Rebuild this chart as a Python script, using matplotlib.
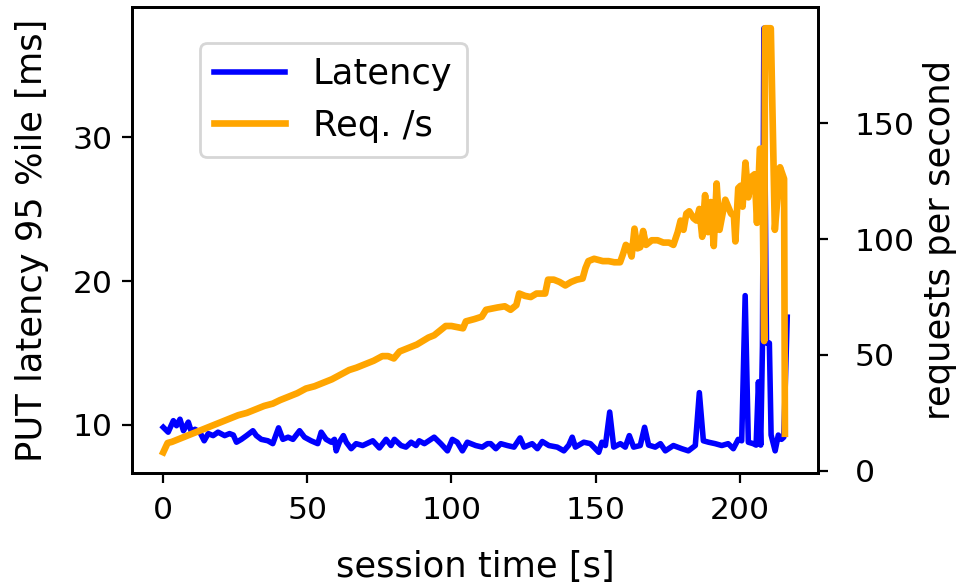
import matplotlib
matplotlib.use("Agg")
import matplotlib.pyplot as plt

# latency (95th percentile of PUT) over session time
lat_t = [0, 1.7, 3.5, 4.6, 5.8, 7, 8.7, 9.8, 11, 12.7,
         14.2, 15.6, 17.3, 19, 21.3, 23, 24.3, 25.4, 27.1, 28.9,
         31.1, 32.3, 34, 36.3, 38, 40, 41.5, 43.3, 45, 47.3,
         49, 51.3, 53.6, 54.8, 56.5, 58.3, 59.4, 60, 61.1, 62.5,
         63.5, 65.2, 66.9, 69.2, 72.7, 75, 77.3, 79, 80.2, 82.5,
         84.2, 86, 87.7, 88.8, 90.6, 94, 96.3, 98.6, 100.3, 102,
         103.8, 105.5, 108.4, 110.7, 112.5, 113.6, 115.4, 117.1, 119.4, 121.7,
         123.8, 125.2, 128, 129.8, 131.5, 133.8, 136.7, 139, 140.7, 141.9,
         143, 145.9, 148.2, 151.1, 152.2, 153.4, 154.9, 156.3, 158.6, 160.3,
         161.7, 163.2, 165.5, 167, 168.4, 170.7, 172.5, 174.2, 177, 179.9,
         182.2, 184.6, 186, 187.4, 189.2, 191.5, 193.8, 196, 197.8, 199.5,
         200.7, 201.9, 203, 204.7, 205.7, 206.5, 207.3, 207.9, 208.4, 209.3,
         210.3, 210.9, 212.3, 213.4, 214.5, 215.3, 216.5]
lat_ms = [9.84, 9.5, 10.3, 9.95, 10.4, 9.6, 10.2, 9.5, 9.7, 9.5,
          8.9, 9.4, 9.26, 9.5, 9.26, 9.4, 9.3, 8.8, 9.0, 9.26,
          9.6, 9.26, 9.0, 8.9, 8.7, 9.8, 9.0, 9.15, 9.0, 9.6,
          9.15, 8.9, 8.7, 9.5, 9.0, 8.8, 9.0, 8.2, 8.8, 9.26,
          8.8, 8.35, 8.7, 8.57, 8.9, 8.4, 9.0, 8.57, 9.0, 8.57,
          8.46, 8.8, 8.57, 8.9, 8.7, 9.15, 8.7, 8.2, 9.0, 8.8,
          8.2, 8.8, 8.57, 8.46, 8.7, 8.7, 8.35, 8.7, 8.57, 8.46,
          9.1, 8.46, 8.7, 8.35, 8.85, 8.57, 8.46, 8.2, 8.6, 9.15,
          8.46, 8.8, 8.7, 8.1, 8.8, 8.57, 10.9, 8.46, 8.7, 8.46,
          9.26, 8.46, 8.57, 9.84, 8.6, 8.46, 8.7, 8.2, 8.57, 8.35,
          8.2, 8.57, 12.25, 8.9, 8.8, 8.7, 8.57, 8.7, 8.35, 9.0,
          8.9, 19.0, 8.8, 8.7, 8.6, 13.0, 8.6, 15.5, 37.6, 15.7,
          15.7, 9.3, 8.2, 9.3, 9.0, 9.15, 17.5]

# requests per second over session time
req_t = [0, 1.5, 3, 5, 7, 9, 11, 14, 17, 20,
         23, 26, 29, 32, 35, 38, 40.5, 43.5, 46.5, 49.5,
         52.5, 55.5, 58.5, 61.5, 64.5, 67, 70, 73, 76, 78,
         80, 82, 85, 88, 90, 92, 94, 96, 98, 100,
         102, 104, 105, 108, 110.5, 112, 114, 116, 118.5, 120.5,
         122.5, 123.5, 125.5, 127.5, 129.5, 132.5, 133.5, 135.5, 137.5, 139.5,
         141.5, 143.5, 145.5, 146.5, 147.5, 149.5, 152.5, 154.5, 156.5, 158.5,
         159.5, 160.5, 161.5, 162.5, 163.5, 164.5, 165.5, 166.5, 167.5, 169.5,
         171.5, 173.5, 175.5, 177, 178.5, 179.5, 180.5, 181.5, 182.5, 184, 185, 186,
         187, 188, 189, 190, 191, 192, 193, 195, 197, 198,
         198.5, 199.5, 200.3, 201, 202, 203, 204.2, 205.2, 206, 207,
         207.8, 208.5, 208.8, 210.8, 212.2, 214, 215.4, 215.7]
req_s = [8, 12, 12.5, 13.5, 14.5, 15.5, 16.5, 18, 19.5, 21,
         22.5, 24, 25, 26.5, 28, 29, 30.5, 32, 33.5, 35.5,
         36.5, 38, 39.5, 41.5, 43.5, 44.5, 46, 47.5, 49.5, 49.5,
         48.5, 51.5, 53, 54.5, 56, 57.5, 58.5, 60.5, 62.5, 62.5,
         62, 61.5, 64.5, 65.5, 66.5, 69.5, 70, 70.5, 71, 69.5,
         71.5, 76.5, 75.5, 75, 76.5, 76.5, 82.5, 82.5, 81.5, 80,
         81.5, 82.5, 83, 87.5, 90.5, 91.5, 90.5, 90.5, 90, 90,
         93.5, 97.5, 96.5, 92.5, 104.5, 96, 96.5, 103.5, 97.5, 99.5,
         99.5, 98.5, 98.5, 97.5, 103, 108, 104, 111, 112, 109, 108, 113,
         101, 119, 103, 116, 97, 124, 104, 117, 111, 110,
         99, 122, 123, 114, 133, 118, 127, 128, 107, 139,
         139, 56, 191, 191, 104, 131, 126, 16]

plt.rcParams['axes.linewidth'] = 1.0

fig, ax = plt.subplots(figsize=(4.82, 2.93), dpi=200)
fig.subplots_adjust(left=0.137, right=0.849, top=0.988, bottom=0.192)

l1, = ax.plot(lat_t, lat_ms, color='blue', lw=2.0, label='Latency')
ax.set_xlabel('session time [s]', fontsize=12.7, labelpad=9)
ax.set_ylabel('PUT latency 95 %ile [ms]', fontsize=12.7, labelpad=8.5)
ax.set_yticks([10, 20, 30])
ax.tick_params(labelsize=11.3)
ax.tick_params(axis='x', pad=4.5)

ax2 = ax.twinx()
l2, = ax2.plot(req_t, req_s, color='orange', lw=2.4, label='Req. /s')
ax2.set_ylabel('requests per second', fontsize=12.7, labelpad=3)
ax2.set_yticks([0, 50, 100, 150])
ax2.tick_params(labelsize=11.3, pad=9.5)

ax.legend(handles=[l1, l2], loc='upper left', bbox_to_anchor=(0.099, 0.923),
          borderaxespad=0, fontsize=12.7)

fig.savefig('out.png', dpi=200)
